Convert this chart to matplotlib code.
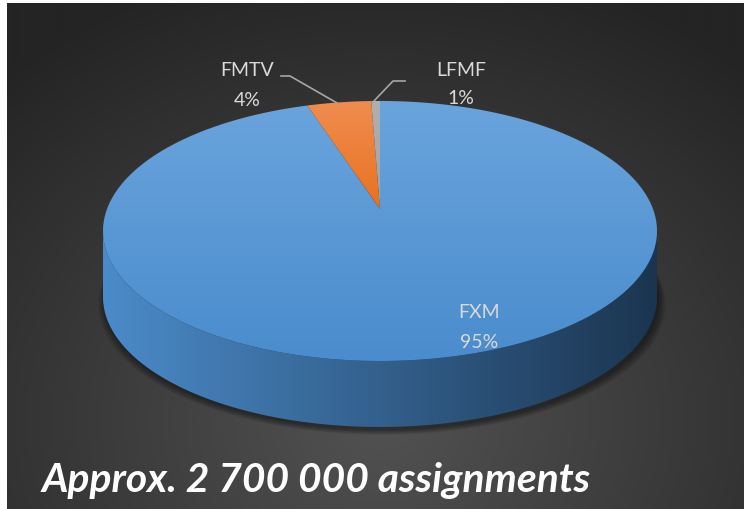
import numpy as np
import matplotlib
matplotlib.use("Agg")
import matplotlib.pyplot as plt
from matplotlib.patches import Polygon, Rectangle
from matplotlib.colors import LinearSegmentedColormap

# ---- data ----
categories = ["FXM", "FMTV", "LFMF"]
values = [95.0, 4.4, 0.6]
title_text = "Approx. 2 700 000 assignments"

# ---- style / geometry ----
W, H = 744, 510
cx, cy = 380.0, 210.0        # projected centre of the disc
k = 0.169                    # perspective factor
A, B = 273.0, 126.3          # horizontal / vertical scale
depth = 66.0                 # thickness of the pie

fig = plt.figure(figsize=(W / 100, H / 100), dpi=100)
fig.patch.set_facecolor("white")
ax = fig.add_axes([0, 0, 1, 1])
ax.set_xlim(0, W)
ax.set_ylim(H, 0)
ax.axis("off")

# ---- background (radial gradient) ----
bx0, by0 = 7, 4
yy, xx = np.mgrid[by0:H:2, bx0:W:2]
r = np.sqrt(((xx - 380) / 560.0) ** 2 + ((yy - 420) / 470.0) ** 2)
r = np.clip(r, 0, 1)
c_in, c_out = np.array([0x52, 0x52, 0x52]) / 255, np.array([0x24, 0x24, 0x24]) / 255
img = c_in[None, None, :] * (1 - r[..., None]) + c_out[None, None, :] * r[..., None]
ax.imshow(img, extent=(bx0, W, H, by0), zorder=0, interpolation="bilinear")


def proj(t, z=0.0):
    u, v = np.cos(t), np.sin(t)
    d = 1 + k * v
    return cx + A * u / d, cy - B * v / d + z


def grad_fill(poly_xy, c_start, c_end, direction="v", z=2):
    patch = Polygon(poly_xy, closed=True, facecolor="none", edgecolor="none")
    ax.add_patch(patch)
    xs, ys = poly_xy[:, 0], poly_xy[:, 1]
    x0, x1, y0, y1 = xs.min(), xs.max(), ys.min(), ys.max()
    cmap = LinearSegmentedColormap.from_list("g", [c_start, c_end])
    if direction == "v":
        g = np.linspace(0, 1, 256)[:, None] * np.ones((1, 2))
    else:
        g = np.ones((2, 1)) * np.linspace(0, 1, 256)[None, :]
    im = ax.imshow(g, cmap=cmap, extent=(x0, x1, y1, y0), aspect="auto",
                   zorder=z, interpolation="bilinear")
    im.set_clip_path(patch)


# ---- shadow under the pie ----
t_near = np.linspace(np.pi, 2 * np.pi, 200)
for i, a in enumerate(np.linspace(1, 0.2, 7)):
    grow = 1 + 0.004 * i
    sx, sy = proj(np.linspace(0, 2 * np.pi, 300), depth + 3 + i * 0.8)
    sx = cx + (sx - cx) * grow
    ax.fill(sx + 2, sy, color="black", alpha=0.07, zorder=1, lw=0)

# ---- side wall ----
tl = np.pi + np.arcsin(k)
tr = 2 * np.pi - np.arcsin(k)
ts = np.linspace(tl, tr, 300)
top_x, top_y = proj(ts)
bot_x, bot_y = proj(ts[::-1], depth)
side = np.column_stack([np.r_[top_x, bot_x], np.r_[top_y, bot_y]])
grad_fill(side, "#4b8bc9", "#1b3550", direction="h", z=2)

# ---- top face wedges ----
top_cols = {"FXM": ("#6aa4dd", "#4a8ccd"),
            "FMTV": ("#f08c50", "#e8721f"),
            "LFMF": ("#b0b0b0", "#a2a2a2")}
total = sum(values)
start = np.pi / 2
for cat, val in zip(categories, values):
    sweep = 2 * np.pi * val / total
    end = start - sweep
    tt = np.linspace(start, end, max(int(400 * val / total), 8))
    px, py = proj(tt)
    poly = np.column_stack([np.r_[cx, px], np.r_[cy, py]])
    c0, c1 = top_cols[cat]
    grad_fill(poly, c0, c1, direction="v", z=3)
    start = end

# ---- labels ----
lab_col = "#d9d9d9"
fam = ["Lato", "DejaVu Sans"]
pct = [f"{round(v / total * 100)}%" for v in values]
label_pos = {"FXM": (479, 313, 343), "FMTV": (247, 70, 100), "LFMF": (461, 70, 99)}
for cat, p in zip(categories, pct):
    x, y1, y2 = label_pos[cat]
    ax.text(x, y1, cat, color=lab_col, fontsize=14, family=fam,
            ha="center", va="center", zorder=5)
    ax.text(x, y2, p, color=lab_col, fontsize=14, family=fam,
            ha="center", va="center", zorder=5)

# leader lines
ax.plot([281, 290, 337], [77, 77, 104], color="#a6a6a6", lw=1.2, zorder=4)
ax.plot([405, 393, 373], [82, 82, 103], color="#a6a6a6", lw=1.2, zorder=4)

# ---- title ----
t = ax.text(42, 492, title_text, color="white", fontsize=28, family=fam,
            fontweight="bold", fontstyle="italic", ha="left", va="baseline",
            zorder=6)
fig.canvas.draw()
bb = t.get_window_extent()
t.set_fontsize(28 * 548.0 / bb.width)

fig.savefig("out.png", dpi=100, facecolor=fig.get_facecolor())
